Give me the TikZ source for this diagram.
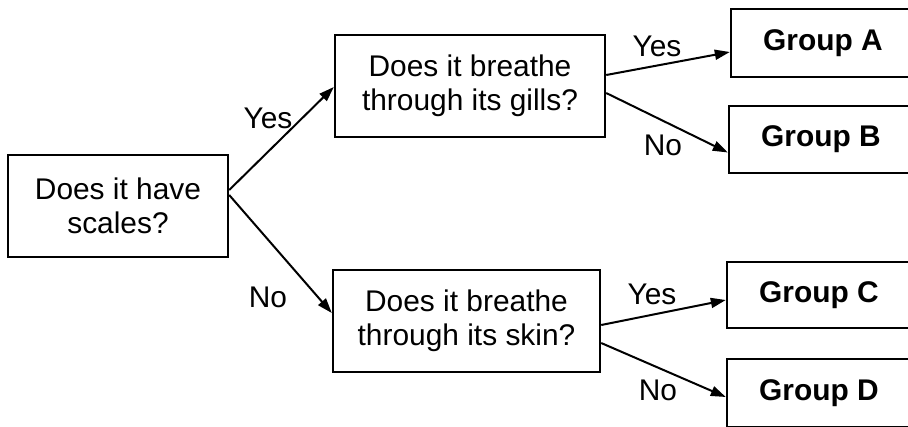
\documentclass[tikz,border=0pt]{standalone}
\usepackage{fontspec}
\setmainfont{Liberation Sans}
\usetikzlibrary{arrows.meta}
\begin{document}
\begin{tikzpicture}[x=1bp,y=-1bp,
  qbox/.style={draw,line width=2.4bp,align=center,inner sep=0pt,font=\fontsize{30}{34}\selectfont},
  gbox/.style={draw,line width=2.4bp,inner sep=0pt,minimum width=184bp,font=\fontsize{30}{34}\selectfont\bfseries},
  conn/.style={line width=2bp,-{Triangle[length=15bp,width=10bp]}},
  lbl/.style={font=\fontsize{30}{34}\selectfont,inner sep=0pt}]
\fill[white] (0,0) rectangle (908,426);
\useasboundingbox (0,0) rectangle (908,426);
\clip (0,0) rectangle (908,426);
\node[qbox,minimum width=220bp,minimum height=102bp] (root) at (118,206) {Does it have\\scales?};
\node[qbox,minimum width=270bp,minimum height=102bp] (gills) at (470,86) {Does it breathe\\through its gills?};
\node[qbox,minimum width=267bp,minimum height=102bp] (skin) at (466.5,321) {Does it breathe\\through its skin?};
\node[gbox,minimum height=68bp] (ga) at (823,43) {Group A};
\node[gbox,minimum height=67bp] (gb) at (821,139.5) {Group B};
\node[gbox,minimum height=66bp] (gc) at (819,295) {Group C};
\node[gbox,minimum height=68bp] (gd) at (819,393) {Group D};
\draw[conn] ([yshift=16bp]root.east) -- ([yshift=-1bp]gills.west);
\draw[conn] ([yshift=11bp]root.east) -- ([yshift=8bp]skin.west);
\draw[conn] ([yshift=11bp]gills.east) -- ([yshift=-9bp]ga.west);
\draw[conn] ([yshift=-7bp]gills.east) -- ([yshift=-13bp]gb.west);
\draw[conn] ([yshift=-4bp]skin.east) -- ([yshift=-5bp]gc.west);
\draw[conn] ([yshift=-22bp]skin.east) -- ([yshift=-4bp]gd.west);
\node[lbl] (l1) at (268,118) {Yes};
\node[lbl] (l2) at (268,297) {No};
\node[lbl] (l3) at (657,46) {Yes};
\node[lbl] (l4) at (663,145) {No};
\node[lbl] (l5) at (652,294) {Yes};
\node[lbl] (l6) at (658,390) {No};
\end{tikzpicture}
\end{document}
